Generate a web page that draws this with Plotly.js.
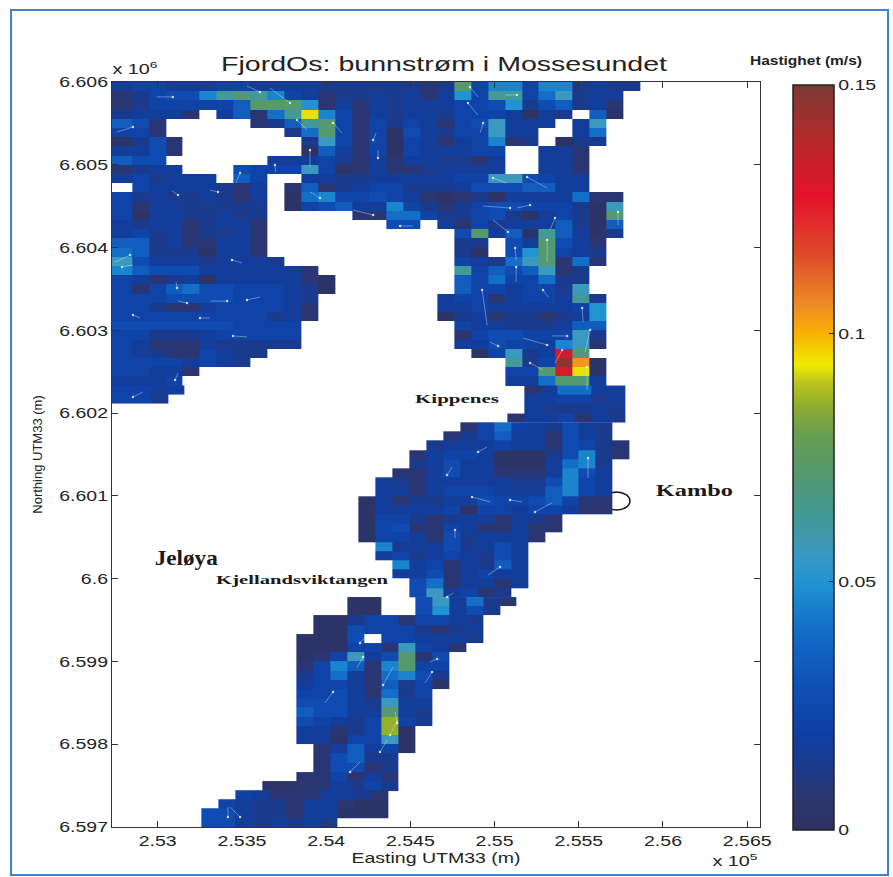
<!DOCTYPE html>
<html>
<head>
<meta charset="utf-8">
<script src="https://cdn.plot.ly/plotly-3.0.1.min.js"></script>
<style>html,body{margin:0;padding:0;background:#fff}#chart{width:893px;height:877px}</style>
</head>
<body>
<div id="chart"></div>
<script>
// Speed classes (m/s); each letter in the rows is one class.
const levelCodes = 'abcdefghijklmnopqrst';
const levelSpeeds = [0.003,0.008,0.013,0.017,0.0215,0.026,0.034,0.040,0.046,0.050,0.056,0.063,0.072,0.078,0.086,0.093,0.104,0.115,0.132,0.146];

// Bottom-current grid, north to south; each string is one row of 32 cells west to east, '.' = land.
const rowsNorth = [
"deedddeedddd"+"ccccccbc"+"meiieiicdcc.",
"bceffilmlied"+"bccdcdbd"+"jellehkcdd..",
"bceeeeegmmmj"+"bdbdcddd"+"eefjcfgcdb..",
"cdddb.dgbhlp"+"iebdcddc"+"eeedadc.ga..",
"gfb.....bcgl"+"mebecedb"+"efkddd.dk...",
"eeb.......ch"+"mebeafdc"+"eekdd..dh...",
"acfb.......c"+"kebeaedb"+"deibc.acc...",
"ddfb.......a"+"gdbeaedd"+"dee..ddb....",
"gff......ddd"+"ecbdbddc"+"cbd..ddb....",
"bcdd...feeek"+"eabdbbcd"+"ddd..ddb....",
"decddd.ge..d"+"dccddddd"+"eekkfedd....",
".eddddcbd.bg"+"bcdeeccc"+"dfffggdd....",
"ecdccdcbd.ah"+"ieefedba"+"bcaddddhbb..",
"ebddccccc.ae"+"fgddiecb"+"ceffeeecak..",
"eaddccdcc..."+"..bbhhec"+"cefcadecam..",
"dcddbcddb..."+"....ff.d"+"becdddgcag..",
"decdbccdb..."+"........"+"fmdgalgdac..",
"ggcdbbddb..."+"........"+"cc.fdmfdb...",
"hgcccaddb..."+"........"+"ca.fjmedc...",
"kfdddcdddc.."+"........"+"edchkmbhb...",
"igfffddddddb"+"........"+"legfgkbc....",
"edbcdadddddb"+"a......."+"geheehcc....",
"ebeghffeeedc"+"a......."+"geedeeck....",
"eeeffffeeedc"+".......d"+"eebdeedlc...",
"eecbbdeeeedb"+".......d"+"dedddddej...",
"eeeeeeeeecdb"+".......a"+"cdbccbcdj...",
"fffffffeeee."+"........"+"eddcccdgg...",
"eecccdeeeee."+"........"+"beffeeekc...",
"edbbbdccccc."+"........"+"ddfeedikb...",
"edcbbedcc..."+"........"+".aekcdsm....",
"eeeededc...."+"........"+"...lcetqa...",
"eeddb......."+"........"+"...eemspa...",
"ddde........"+"........"+"...ddhmmd..."
];
const rowsKippenes = [
"eedd........"+"........"+"....bdhhdd..",
"eec........."+"........"+"....ddeecd..",
"............"+"........"+"....dcccdc..",
"............"+"........"+"...bddebdc.."
];
const rowsKambo = [
"............"+"........"+"behedcfdc...",
"............"+".......b"+"cegddbfdc...",
"............"+"......cd"+"ddeddbfecb..",
"............"+".....bde"+"edaaacficb..",
"............"+".....cdf"+"ddaaadhic...",
"............"+"....bbdf"+"ddbbbdifd...",
"............"+"...dcbdd"+"dddccfied...",
"............"+"...ddbde"+"eedddgied...",
"............"+"..adbccd"+"dfeefgebb...",
"............"+"..adddde"+"aeedeedbb...",
"............"+"..aeecbc"+"ddbdcb......",
"............"+"..aefbbe"+"dbbdbb......",
"............"+"..aeedbf"+"cdddb.......",
"............"+"...icddf"+"cdfd........",
"............"+"...decde"+"dcfd........",
"............"+"....ideb"+"dcgd........",
"............"+"....ddfb"+"dedd........",
"............"+".....fhb"+"ddbd........",
"............"+".....fkd"+"ebc........."
];
const rowsSouth = [
"............"+"..aa..fk"+"dhcb........",
"............"+"..aa..fj"+"dfc.........",
"............"+"aaceebee"+"dc..........",
"............"+"aafeeecb"+"cd..........",
"...........a"+"aaf.eedd"+"dc..........",
"...........a"+"aaeebked"+"b...........",
"...........a"+"bekdfmbf"+"............",
"...........b"+"eigbimee"+"............",
"...........c"+"ehdbhifc"+"............",
"...........d"+"eedbgcea"+"............",
"...........e"+"efdbhce."+"............",
"...........f"+"ffdckdd."+"............",
"...........g"+"ffddmdc."+"............",
"...........f"+"edceoec."+"............",
"...........d"+"dbceoa.."+"............",
"...........d"+"daeeka.."+"............",
"............"+"bdgdea.."+"............",
"............"+"bfgcc..."+"............",
"............"+"bffbc..."+"............",
"...........b"+"bebdb..."+"............",
".........aab"+"bdcec..."+"............"
];
const rowsTail = [
".......edbbb"+"ddcb...."+"............",
"......edccbd"+"dbaa...."+"............",
".....ffdccbd"+"daaa...."+"............",
".....ffdcdcd"+"c......."+"............"
];
// East-west offset of each scanned block of rows (m)
const blockOffsets = [0, 12, 36, -30, 12];

// Current vectors: head position (UTM33 m) and vector towards the tail (m)
const quiverEast = [253090,253607,253786,253827,254041,253904,252853,253696,253489,253964,254279,254439,254279,254308,252836,253121,253358,254854,254842,255133,254932,254991,255193,255092,255211,255080,255312,255733,255122,255359,255128,254926,255312,255021,255431,255567,255549,255401,255211,255288,255520,253412,253174,253530,252853,253251,253447,252853,253115,253103,253441,252788,254866,255092,255240,255555,254718,254902,254765,255033,254718,254201,254219,254338,254041,254379,254421,254320,254142,253417,253489,254629,254659];
const quiverNorth = [6605820,6605879,6605746,6605541,6605505,6605179,6605456,6604997,6604901,6604599,6604393,6604260,6605299,6605082,6603910,6604635,6604671,6605940,6605746,6605843,6605505,6604840,6604852,6604478,6604514,6604188,6604091,6604430,6603995,6604357,6603765,6603487,6602823,6602811,6602932,6603004,6602557,6602762,6602605,6603487,6603270,6603354,6603330,6603367,6603185,6603149,6602932,6602195,6603512,6602400,6603850,6603765,6600987,6600951,6600806,6601458,6601253,6601531,6600588,6600141,6599779,6599224,6599055,6598716,6598632,6598112,6598257,6597906,6597665,6597121,6597121,6598873,6599030];
const quiverU = [-95,-77,-119,59,53,0,-95,6,-24,-59,-119,77,18,0,-89,-36,-48,48,59,-71,-18,83,119,-160,-77,-89,0,0,6,-30,0,30,-143,-48,-89,-30,0,-42,77,30,6,-101,-53,77,42,59,83,59,-6,18,59,65,107,71,101,0,30,53,0,-71,36,30,-36,59,-48,48,-12,42,59,0,-59,-42,-42];
const quiverV = [0,72,181,-121,-121,-205,-60,-85,-121,72,60,0,85,97,-85,48,24,-121,-145,0,-121,-60,-133,24,-36,145,-266,-157,-145,-145,-181,-423,85,48,0,-266,-278,-157,-85,-85,-169,0,24,36,-36,0,-12,60,72,85,-36,24,-60,-24,109,-242,97,60,-97,-97,48,72,-133,217,-133,181,133,145,121,121,121,-133,-36];

const xTickVals = [253000,253500,254000,254500,255000,255500,256000,256500];
const xTickText = ['2.53','2.535','2.54','2.545','2.55','2.555','2.56','2.565'];
const yTickVals = [6597000,6598000,6599000,6600000,6601000,6602000,6603000,6604000,6605000,6606000];
const yTickText = ['6.597','6.598','6.599','6.6','6.601','6.602','6.603','6.604','6.605','6.606'];
const barTickVals = [0,0.05,0.1,0.15];
const barTickText = ['0','0.05','0.1','0.15'];

const jetDark = [
 [0,'#2d3160'],[0.05,'#2b3670'],[0.085,'#1a3a8c'],[0.13,'#0f3fa4'],[0.2,'#0f52b8'],[0.27,'#126fc8'],
 [0.333,'#2094d2'],[0.37,'#3a98c2'],[0.43,'#45988f'],[0.5,'#5a9a62'],[0.535,'#6c9f4e'],[0.57,'#90ae2e'],
 [0.6,'#bcc41e'],[0.625,'#f0ea02'],[0.667,'#f9b004'],[0.7,'#f09024'],[0.77,'#de4c2a'],[0.85,'#e4122c'],
 [0.93,'#b42a2c'],[1,'#7a3a34']
];

const sans = 'Liberation Sans, Arial, sans-serif';
const axisFont = {family:sans, size:15, color:'#222'};
const serif = {family:'Liberation Serif, serif', color:'#1a1a1a'};

const xMin = 252728.6, xMax = 256576, yMin = 6597000, yMax = 6606000;
const cellEast = 100.66, cellNorth = 9000/81;

function decode(rows){
  return rows.map(r => r.split('').map(ch => { const i = levelCodes.indexOf(ch); return i < 0 ? null : levelSpeeds[i]; }));
}
const blocks = [rowsNorth, rowsKippenes, rowsKambo, rowsSouth, rowsTail];
const traces = [];
let startRow = 0;
blocks.forEach((rows, b) => {
  const xe = [];
  for (let c = 0; c <= 32; c++) xe.push(c === 0 ? 252600 : 252847 + (c-1)*cellEast + blockOffsets[b]);
  const ye = [];
  for (let k = rows.length; k >= 0; k--) ye.push(yMax - (startRow + k)*cellNorth - (k === rows.length ? 8 : 0));
  traces.push({type:'heatmap', x:xe, y:ye, z:decode(rows).reverse(), coloraxis:'coloraxis', hoverongaps:false});
  startRow += rows.length;
});

const tailX = [], tailY = [];
quiverEast.forEach((e,i) => { tailX.push(e, e+quiverU[i], null); tailY.push(quiverNorth[i], quiverNorth[i]+quiverV[i], null); });
traces.push({type:'scatter', mode:'lines', x:tailX, y:tailY, line:{color:'rgba(225,240,255,0.38)', width:1}, hoverinfo:'skip', showlegend:false});
traces.push({type:'scatter', mode:'markers', x:quiverEast, y:quiverNorth, marker:{color:'rgba(240,250,255,0.8)', size:2.5}, hoverinfo:'skip', showlegend:false});

const layout = {
  width:893, height:877,
  margin:{l:112, r:133, t:82, b:50, autoexpand:false},
  paper_bgcolor:'#ffffff', plot_bgcolor:'#ffffff',
  showlegend:false,
  title:{text:'FjordOs: bunnstrøm i Mossesundet', font:{family:sans, size:20, color:'#222'}, x:444/893, xanchor:'center', y:1-64/877, yanchor:'middle'},
  xaxis:{range:[xMin,xMax], tickmode:'array', tickvals:xTickVals, ticktext:xTickText, ticks:'inside', ticklen:6, tickcolor:'#333', mirror:'ticks', showline:true, linecolor:'#333', linewidth:1, showgrid:false, zeroline:false, tickfont:axisFont,
         title:{text:'Easting UTM33 (m)', font:{family:sans, size:15, color:'#222'}, standoff:2}},
  yaxis:{range:[yMin,yMax], tickmode:'array', tickvals:yTickVals, ticktext:yTickText, ticks:'inside', ticklen:6, tickcolor:'#333', mirror:'ticks', showline:true, linecolor:'#333', linewidth:1, showgrid:false, zeroline:false, tickfont:axisFont,
         title:{text:'Northing UTM33 (m)', font:{family:sans, size:13, color:'#222'}, standoff:24}},
  coloraxis:{cmin:0, cmax:0.15, colorscale:jetDark, colorbar:{
    x:(793-112)/648, xanchor:'left', xpad:0, ypad:0, y:-3/745, yanchor:'bottom',
    lenmode:'pixels', len:745, thicknessmode:'pixels', thickness:41,
    tickmode:'array', tickvals:barTickVals, ticktext:barTickText, ticks:'inside', ticklen:5, tickcolor:'#222',
    tickfont:axisFont, outlinecolor:'#222', outlinewidth:1.5, showticklabels:true
  }},
  shapes:[
    {type:'rect', layer:'below', xref:'paper', yref:'paper', x0:(11-112)/648, x1:(888-112)/648, y0:-(875-827)/745, y1:1+(82-10)/745, line:{color:'#3f83cc', width:2}, fillcolor:'rgba(0,0,0,0)'},
    {type:'circle', layer:'below', xref:'x', yref:'y', x0:255644, x1:255804, y0:6600830, y1:6601047, line:{color:'#111', width:1.5}}
  ],
  annotations:[
    {xref:'x', yref:'y', x:253168, y:6600238, text:'<b>Jeløya</b>', showarrow:false, font:{...serif, size:20}},
    {xref:'x', yref:'y', x:254777, y:6602171, text:'<b>Kippenes</b>', showarrow:false, font:{...serif, size:12}},
    {xref:'x', yref:'y', x:253857, y:6599984, text:'<b>Kjellandsviktangen</b>', showarrow:false, font:{...serif, size:12.5}},
    {xref:'x', yref:'y', x:256190, y:6601071, text:'<b>Kambo</b>', showarrow:false, font:{...serif, size:16}},
    {xref:'paper', yref:'paper', xanchor:'center', yanchor:'middle', x:(135-112)/648, y:1+(82-68)/745, text:'x 10<sup>6</sup>', showarrow:false, font:{family:sans, size:14, color:'#222'}},
    {xref:'paper', yref:'paper', xanchor:'center', yanchor:'middle', x:(735-112)/648, y:-(860-827)/745, text:'x 10<sup>5</sup>', showarrow:false, font:{family:sans, size:14, color:'#222'}},
    {xref:'paper', yref:'paper', xanchor:'center', yanchor:'middle', x:(806-112)/648, y:1+(82-60)/745, text:'<b>Hastighet (m/s)</b>', showarrow:false, font:{family:sans, size:13, color:'#222'}}
  ]
};
// The scanned reference is stretched sideways, so its horizontal lettering is wider than the font's natural width.
function widen(node, width){
  node.setAttribute('textLength', width);
  node.setAttribute('lengthAdjust', 'spacingAndGlyphs');
}
const labelWidths = [63, 84, 172, 77, 45, 45, 112];
Plotly.newPlot('chart', traces, layout, {displayModeBar:false, staticPlot:true}).then(() => {
  const root = document.getElementById('chart');
  root.querySelectorAll('.xtick text, .ytick text, .colorbar .cbaxis text, .cbaxis text, .xtitle').forEach(n => widen(n, n.getComputedTextLength()*1.3));
  const title = root.querySelector('.gtitle');
  if (title) widen(title, 446);
  root.querySelectorAll('.annotation-text').forEach((n,i) => widen(n, labelWidths[i]));
});
</script>
</body>
</html>
